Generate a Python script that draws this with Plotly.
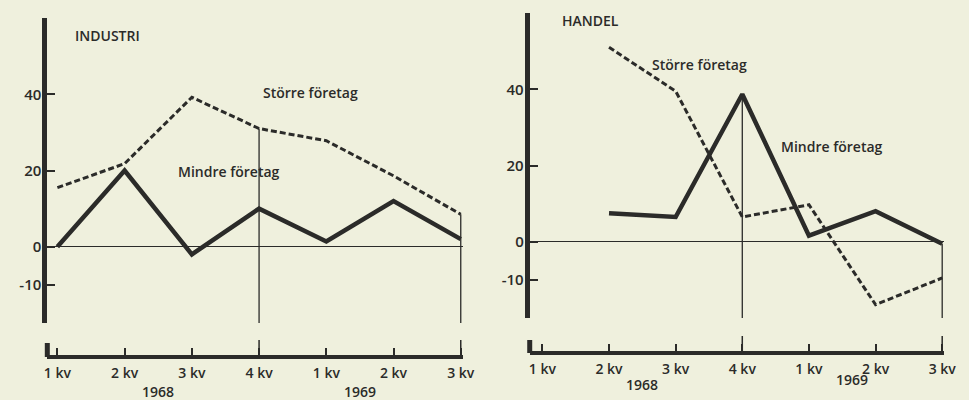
import plotly.graph_objects as go

# ---------------- data ----------------
quarters = [0, 1, 2, 3, 4, 5, 6]
quarter_labels = ["1 kv", "2 kv", "3 kv", "4 kv", "1 kv", "2 kv", "3 kv"]
year_labels = ["1968", "1969"]
y_tickvals = [-10, 0, 20, 40]
y_ticktext = ["-10", "0", "20", "40"]

industri_storre = [15.5, 21.8, 39.2, 31.0, 27.8, 18.6, 8.5]
industri_mindre = [0.0, 20.0, -2.0, 10.0, 1.4, 12.0, 2.0]
handel_storre = [None, 51.0, 39.5, 6.5, 9.7, -16.5, -9.5]
handel_mindre = [None, 7.5, 6.5, 38.7, 1.6, 8.0, -0.5]

# ---------------- style ----------------
W, H = 969, 400
BG = "#eff0dd"
INK = "#2b2b29"
FONT = "Open Sans"
YR = [-20, 60]


def px(x):
    return x / W


def py(y):
    return 1 - y / H


fig = go.Figure()

panels = [
    dict(sx="x", sy="y", xa="xaxis", ya="yaxis", storre=industri_storre, mindre=industri_mindre,
         xdom=[px(45), px(467)], ydom=[py(323), py(18)], xr=[-0.15, 6.03], bottom=357,
         title="INDUSTRI", title_xy=(106, 35), s_xy=(312, 92), m_xy=(230, 172),
         years_xy=[(157, 391), (363, 391)], stub=(45, 343)),
    dict(sx="x2", sy="y2", xa="xaxis2", ya="yaxis2", storre=handel_storre, mindre=handel_mindre,
         xdom=[px(535), px(956)], ydom=[py(318), py(13)], xr=[-0.19, 6.03], bottom=353,
         title="HANDEL", title_xy=(597, 20), s_xy=(707, 64), m_xy=(842, 147),
         years_xy=[(649, 384), (862, 379)], stub=(535, 340)),
]

for p in panels:
    fig.add_trace(go.Scatter(x=quarters, y=p["storre"], xaxis=p["sx"], yaxis=p["sy"], mode="lines",
                             line=dict(color=INK, width=3, dash="6px,3px"), connectgaps=False,
                             showlegend=False, hoverinfo="skip"))
    fig.add_trace(go.Scatter(x=quarters, y=p["mindre"], xaxis=p["sx"], yaxis=p["sy"], mode="lines",
                             line=dict(color=INK, width=4.5), connectgaps=False,
                             showlegend=False, hoverinfo="skip"))

    fig.layout[p["xa"]] = dict(
        domain=p["xdom"], range=p["xr"], anchor="free", position=py(p["bottom"]),
        tickmode="array", tickvals=quarters, ticktext=quarter_labels,
        ticks="inside", ticklen=7, tickwidth=1.5, tickcolor=INK, ticklabelstandoff=2,
        showline=True, linewidth=4, linecolor=INK, showgrid=False, zeroline=False,
        tickfont=dict(family=FONT, size=14, color=INK, weight=600), fixedrange=True,
    )
    fig.layout[p["ya"]] = dict(
        domain=p["ydom"], range=YR, anchor=p["sx"],
        tickmode="array", tickvals=y_tickvals, ticktext=y_ticktext,
        ticks="inside", ticklen=8, tickwidth=1.5, tickcolor=INK, ticklabelstandoff=-2,
        showline=True, linewidth=5, linecolor=INK, showgrid=False,
        zeroline=True, zerolinewidth=1.3, zerolinecolor=INK,
        tickfont=dict(family=FONT, size=15, color=INK, weight=600), fixedrange=True,
    )

    # vertical reference lines at 4 kv 1968 and 3 kv 1969
    top4 = max(v for v in (p["storre"][3], p["mindre"][3]) if v is not None)
    top7 = max(v for v in (p["storre"][6], p["mindre"][6]) if v is not None)
    for xv, yt in ((3, top4), (6, top7)):
        fig.add_shape(type="line", xref=p["sx"], yref=p["sy"], x0=xv, x1=xv, y0=yt, y1=YR[0],
                      line=dict(color=INK, width=1.3))
        fig.add_shape(type="line", xref=p["sx"], yref="paper", x0=xv, x1=xv,
                      y0=py(p["bottom"]), y1=py(p["bottom"] - 17), line=dict(color=INK, width=1.5))
    # stub of the vertical axis at the bottom scale
    sx0, sy0 = p["stub"]
    fig.add_shape(type="line", xref="paper", yref="paper", x0=px(sx0), x1=px(sx0),
                  y0=py(p["bottom"]), y1=py(sy0), line=dict(color=INK, width=5))

    def ann(text, xy, size=14):
        fig.add_annotation(text=text, x=px(xy[0]), y=py(xy[1]), xref="paper", yref="paper",
                           showarrow=False, xanchor="center", yanchor="middle",
                           font=dict(family=FONT, size=size, color=INK, weight=600))

    ann(p["title"], p["title_xy"])
    ann("Större företag", p["s_xy"])
    ann("Mindre företag", p["m_xy"])
    for t, xy in zip(year_labels, p["years_xy"]):
        ann(t, xy, 14)

fig.update_layout(
    width=W, height=H, margin=dict(l=0, r=0, t=0, b=0),
    paper_bgcolor=BG, plot_bgcolor=BG, showlegend=False,
)

fig.write_html("out.html", config={"displayModeBar": False},
               post_script="document.body.style.margin='0';document.body.style.background='%s';" % BG)
